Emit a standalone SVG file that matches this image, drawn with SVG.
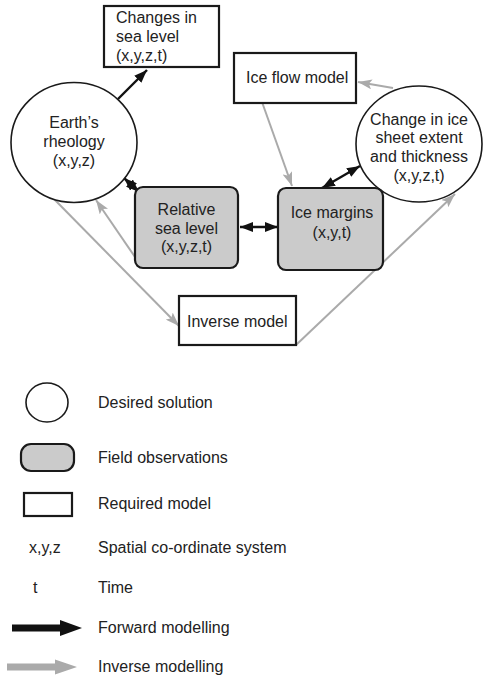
<svg xmlns="http://www.w3.org/2000/svg" width="485" height="680" viewBox="0 0 485 680">
  <style>
    text { font-family: "Liberation Sans", Arial, sans-serif; font-size: 16px; fill: #222; }
    .mid { text-anchor: middle; }
    .sol { fill: #fff; stroke: #1a1a1a; stroke-width: 1.6; }
    .obs { fill: #cbcbcb; stroke: #1a1a1a; stroke-width: 2.2; }
    .mod { fill: #fff; stroke: #1a1a1a; stroke-width: 2.2; }
    .fwd { stroke: #111; stroke-width: 2.4; fill: none; }
    .inv { stroke: #aaa; stroke-width: 2; fill: none; }
  </style>
  <defs>
    <marker id="headBlack" markerUnits="userSpaceOnUse" viewBox="0 0 13 10" refX="13" refY="5" markerWidth="13" markerHeight="10" orient="auto-start-reverse">
      <path d="M0,0 L13,5 L0,10 Z" fill="#111"/>
    </marker>
    <marker id="headGrey" markerUnits="userSpaceOnUse" viewBox="0 0 14 10" refX="14" refY="5" markerWidth="14" markerHeight="10" orient="auto">
      <path d="M0,0 L14,5 L0,10 L3,5 Z" fill="#aaa"/>
    </marker>
  </defs>

  <!-- connectors -->
  <g id="connectors">
    <line class="fwd" x1="118" y1="99" x2="147" y2="70" marker-end="url(#headBlack)"/>
    <line class="fwd" x1="124" y1="178" x2="139" y2="192" marker-start="url(#headBlack)" marker-end="url(#headBlack)"/>
    <line class="fwd" x1="240" y1="227" x2="278" y2="227" marker-start="url(#headBlack)" marker-end="url(#headBlack)"/>
    <line class="fwd" x1="322" y1="188" x2="360" y2="166" marker-start="url(#headBlack)" marker-end="url(#headBlack)"/>
    <line class="inv" x1="393" y1="88" x2="358" y2="82" marker-end="url(#headGrey)"/>
    <line class="inv" x1="262" y1="102" x2="292" y2="186" marker-end="url(#headGrey)"/>
    <line class="inv" x1="135" y1="257" x2="96" y2="200" marker-end="url(#headGrey)"/>
    <line class="inv" x1="53" y1="198" x2="179" y2="326" marker-end="url(#headGrey)"/>
    <line class="inv" x1="296" y1="345" x2="455" y2="194" marker-end="url(#headGrey)"/>
  </g>

  <g id="sea-level-change">
    <rect class="mod" x="104" y="6" width="115" height="61"/>
    <text x="116" y="23">Changes in</text>
    <text x="116" y="42">sea level</text>
    <text x="116" y="61">(x,y,z,t)</text>
  </g>

  <g id="earth-rheology">
    <ellipse class="sol" cx="74" cy="142.5" rx="63" ry="60"/>
    <text class="mid" x="74" y="128">Earth’s</text>
    <text class="mid" x="74" y="147">rheology</text>
    <text class="mid" x="74" y="166">(x,y,z)</text>
  </g>

  <g id="ice-flow-model">
    <rect class="mod" x="234" y="53" width="122" height="50"/>
    <text x="246" y="83">Ice flow model</text>
  </g>

  <g id="ice-sheet-change">
    <ellipse class="sol" cx="419" cy="144" rx="63" ry="58"/>
    <text class="mid" x="419" y="125">Change in ice</text>
    <text class="mid" x="419" y="143">sheet extent</text>
    <text class="mid" x="419" y="162">and thickness</text>
    <text class="mid" x="419" y="181">(x,y,z,t)</text>
  </g>

  <g id="relative-sea-level">
    <rect class="obs" x="135" y="187" width="103" height="81" rx="8"/>
    <text class="mid" x="186.5" y="215">Relative</text>
    <text class="mid" x="186.5" y="234">sea level</text>
    <text class="mid" x="186.5" y="252">(x,y,z,t)</text>
  </g>

  <g id="ice-margins">
    <rect class="obs" x="278" y="188" width="105" height="82" rx="8"/>
    <text class="mid" x="332" y="218">Ice margins</text>
    <text class="mid" x="332" y="238">(x,y,t)</text>
  </g>

  <g id="inverse-model">
    <rect class="mod" x="179" y="296" width="117" height="49"/>
    <text x="187" y="327">Inverse model</text>
  </g>

  <!-- key -->
  <g id="legend">
    <ellipse class="sol" cx="47" cy="402.5" rx="21" ry="19.5"/>
    <text x="98" y="408">Desired solution</text>
    <rect class="obs" x="21" y="444" width="53" height="27" rx="10" stroke-width="1.6"/>
    <text x="98" y="463">Field observations</text>
    <rect class="mod" x="24" y="493" width="48" height="23"/>
    <text x="98" y="509">Required model</text>
    <text x="29" y="553">x,y,z</text>
    <text x="98" y="553">Spatial co-ordinate system</text>
    <text x="33" y="593">t</text>
    <text x="98" y="593">Time</text>
    <path d="M12,624.5 H60 V620 L82,628 L60,636 V631.5 H12 Z" fill="#111"/>
    <text x="98" y="633">Forward modelling</text>
    <path d="M7,663.5 H55 V659.5 L77,667 L55,674.5 V670.5 H7 Z" fill="#aaa"/>
    <text x="98" y="672">Inverse modelling</text>
  </g>
</svg>
